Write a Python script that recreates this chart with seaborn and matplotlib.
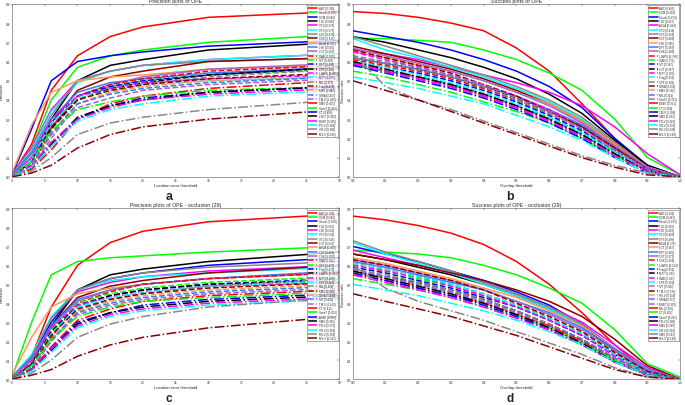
import matplotlib
matplotlib.use("Agg")
import matplotlib.pyplot as plt
import seaborn as sns

thr_prec = [0, 3, 6, 10, 15, 20, 30, 50]
thr_succ = [0, 0.1, 0.2, 0.3, 0.4, 0.5, 0.6, 0.7, 0.8, 0.9, 1.0]

# (a) precision plots of OPE
names_a = ["ABC", "Struck", "SCM", "TLD", "VTD", "VTS", "CXT", "CSK", "ASLA", "LSK", "LOT",
           "OAB", "IVT", "DFT", "CPF", "L1APG", "MTT", "MIL", "Frag", "KMS", "ORIA", "TM-V",
           "SMS", "SemiT", "CT", "LSHT", "BSBT", "PD-V", "VR-V", "MS-V"]
scores_a = [0.785, 0.656, 0.649, 0.608, 0.576, 0.575, 0.575, 0.545, 0.532, 0.505, 0.502,
            0.500, 0.499, 0.496, 0.491, 0.485, 0.475, 0.475, 0.475, 0.466, 0.457, 0.445,
            0.425, 0.419, 0.406, 0.400, 0.395, 0.384, 0.380, 0.285]
prec_a = [
    [0.01, 0.17, 0.45, 0.63, 0.73, 0.78, 0.83, 0.86],
    [0.01, 0.15, 0.40, 0.57, 0.63, 0.66, 0.70, 0.74],
    [0.01, 0.25, 0.50, 0.60, 0.63, 0.65, 0.68, 0.71],
    [0.00, 0.08, 0.30, 0.50, 0.58, 0.61, 0.66, 0.70],
    [0.01, 0.15, 0.35, 0.50, 0.55, 0.58, 0.61, 0.64],
    [0.01, 0.14, 0.34, 0.49, 0.55, 0.58, 0.61, 0.64],
    [0.01, 0.13, 0.32, 0.50, 0.55, 0.58, 0.60, 0.62],
    [0.01, 0.10, 0.28, 0.45, 0.52, 0.55, 0.60, 0.62],
    [0.02, 0.27, 0.44, 0.50, 0.52, 0.53, 0.56, 0.58],
    [0.01, 0.12, 0.30, 0.44, 0.49, 0.51, 0.54, 0.57],
    [0.01, 0.10, 0.26, 0.42, 0.48, 0.52, 0.56, 0.59],
    [0.00, 0.05, 0.25, 0.42, 0.48, 0.51, 0.55, 0.58],
    [0.00, 0.08, 0.25, 0.40, 0.47, 0.50, 0.53, 0.56],
    [0.00, 0.08, 0.28, 0.42, 0.47, 0.50, 0.53, 0.57],
    [0.00, 0.07, 0.25, 0.40, 0.46, 0.49, 0.53, 0.57],
    [0.00, 0.10, 0.30, 0.42, 0.46, 0.49, 0.51, 0.53],
    [0.00, 0.09, 0.28, 0.41, 0.45, 0.48, 0.50, 0.52],
    [0.00, 0.05, 0.20, 0.38, 0.44, 0.48, 0.52, 0.56],
    [0.00, 0.08, 0.26, 0.40, 0.45, 0.48, 0.51, 0.54],
    [0.00, 0.06, 0.22, 0.38, 0.44, 0.47, 0.50, 0.52],
    [0.00, 0.07, 0.23, 0.38, 0.43, 0.46, 0.49, 0.52],
    [0.00, 0.06, 0.22, 0.36, 0.41, 0.45, 0.48, 0.51],
    [0.00, 0.04, 0.14, 0.30, 0.38, 0.42, 0.46, 0.50],
    [0.00, 0.08, 0.24, 0.35, 0.39, 0.42, 0.45, 0.47],
    [0.00, 0.05, 0.16, 0.30, 0.37, 0.41, 0.44, 0.47],
    [0.00, 0.05, 0.17, 0.31, 0.37, 0.40, 0.44, 0.47],
    [0.00, 0.06, 0.18, 0.30, 0.36, 0.40, 0.43, 0.46],
    [0.00, 0.05, 0.16, 0.29, 0.35, 0.38, 0.42, 0.45],
    [0.00, 0.03, 0.10, 0.22, 0.28, 0.31, 0.35, 0.40],
    [0.00, 0.02, 0.06, 0.15, 0.22, 0.26, 0.30, 0.35],
]

# (b) success plots of OPE
names_b = ["ABC", "SCM", "Struck", "TLD", "ASLA", "VTD", "VTS", "CXT", "LSK", "DFT", "CSK",
           "L1APG", "OAB", "IVT", "LOT", "MTT", "Frag", "CPF", "ORIA", "KMS", "MIL", "SemiT",
           "BSBT", "CT", "TM-V", "SMS", "PD-V", "VR-V", "RS-V", "MS-V"]
scores_b = [0.641, 0.499, 0.474, 0.437, 0.434, 0.416, 0.416, 0.409, 0.395, 0.389, 0.383,
            0.380, 0.371, 0.367, 0.367, 0.358, 0.352, 0.341, 0.333, 0.326, 0.316, 0.313,
            0.311, 0.306, 0.289, 0.283, 0.263, 0.253, 0.249, 0.184]
succ_b = [
    [0.86, 0.85, 0.83, 0.80, 0.76, 0.67, 0.55, 0.38, 0.20, 0.05, 0.00],
    [0.72, 0.72, 0.71, 0.70, 0.66, 0.61, 0.54, 0.45, 0.30, 0.10, 0.01],
    [0.76, 0.73, 0.70, 0.66, 0.61, 0.55, 0.47, 0.36, 0.20, 0.06, 0.00],
    [0.73, 0.70, 0.66, 0.62, 0.57, 0.51, 0.43, 0.33, 0.19, 0.06, 0.00],
    [0.66, 0.64, 0.61, 0.57, 0.53, 0.49, 0.44, 0.37, 0.26, 0.12, 0.01],
    [0.72, 0.66, 0.62, 0.57, 0.52, 0.46, 0.39, 0.30, 0.17, 0.05, 0.00],
    [0.73, 0.68, 0.63, 0.58, 0.53, 0.47, 0.40, 0.31, 0.18, 0.05, 0.00],
    [0.68, 0.64, 0.60, 0.56, 0.51, 0.45, 0.38, 0.29, 0.17, 0.05, 0.00],
    [0.65, 0.62, 0.58, 0.55, 0.50, 0.44, 0.38, 0.29, 0.17, 0.05, 0.00],
    [0.62, 0.59, 0.56, 0.52, 0.47, 0.42, 0.35, 0.27, 0.16, 0.05, 0.00],
    [0.67, 0.63, 0.59, 0.55, 0.50, 0.44, 0.37, 0.28, 0.16, 0.05, 0.00],
    [0.61, 0.58, 0.55, 0.51, 0.46, 0.40, 0.33, 0.25, 0.14, 0.04, 0.00],
    [0.58, 0.55, 0.52, 0.48, 0.43, 0.37, 0.31, 0.23, 0.13, 0.03, 0.00],
    [0.60, 0.57, 0.54, 0.50, 0.45, 0.39, 0.32, 0.24, 0.13, 0.03, 0.00],
    [0.62, 0.59, 0.56, 0.52, 0.47, 0.41, 0.34, 0.26, 0.15, 0.04, 0.00],
    [0.65, 0.61, 0.57, 0.53, 0.48, 0.42, 0.35, 0.26, 0.15, 0.04, 0.00],
    [0.60, 0.57, 0.53, 0.49, 0.44, 0.38, 0.31, 0.23, 0.13, 0.03, 0.00],
    [0.62, 0.59, 0.56, 0.52, 0.47, 0.40, 0.33, 0.25, 0.14, 0.04, 0.00],
    [0.66, 0.62, 0.58, 0.54, 0.48, 0.42, 0.34, 0.26, 0.15, 0.04, 0.00],
    [0.59, 0.56, 0.52, 0.48, 0.43, 0.37, 0.30, 0.22, 0.12, 0.03, 0.00],
    [0.59, 0.55, 0.52, 0.48, 0.43, 0.37, 0.30, 0.22, 0.12, 0.03, 0.00],
    [0.63, 0.60, 0.57, 0.53, 0.48, 0.41, 0.34, 0.25, 0.14, 0.04, 0.00],
    [0.59, 0.55, 0.51, 0.47, 0.42, 0.36, 0.29, 0.21, 0.11, 0.03, 0.00],
    [0.55, 0.52, 0.48, 0.44, 0.39, 0.34, 0.28, 0.20, 0.11, 0.03, 0.00],
    [0.58, 0.54, 0.50, 0.46, 0.41, 0.35, 0.28, 0.20, 0.10, 0.02, 0.00],
    [0.60, 0.56, 0.52, 0.48, 0.43, 0.37, 0.30, 0.22, 0.12, 0.03, 0.00],
    [0.59, 0.55, 0.51, 0.47, 0.42, 0.36, 0.29, 0.21, 0.11, 0.03, 0.00],
    [0.52, 0.49, 0.46, 0.42, 0.38, 0.32, 0.26, 0.19, 0.10, 0.02, 0.00],
    [0.64, 0.47, 0.40, 0.35, 0.29, 0.23, 0.17, 0.11, 0.06, 0.02, 0.00],
    [0.50, 0.45, 0.40, 0.34, 0.28, 0.22, 0.16, 0.10, 0.05, 0.01, 0.00],
]

# (c) precision plots of OPE - occlusion (29)
names_c = ["ABC", "SCM", "Struck", "TLD", "LSK", "VTS", "VTD", "LOT", "ASLA", "CXT", "CSK",
           "OAB", "DFT", "Frag", "L1APG", "MTT", "CPF", "MIL", "KMS", "ORIA", "IVT", "TM-V",
           "CT", "SemiT", "BSBT", "SMS", "PD-V", "VR-V", "RS-V", "MS-V"]
scores_c = [0.783, 0.640, 0.564, 0.563, 0.534, 0.534, 0.545, 0.522, 0.460, 0.491, 0.500,
            0.492, 0.475, 0.475, 0.461, 0.460, 0.460, 0.428, 0.438, 0.435, 0.455, 0.420,
            0.412, 0.413, 0.390, 0.383, 0.375, 0.364, 0.352, 0.241]
prec_c = [
    [0.01, 0.12, 0.38, 0.60, 0.72, 0.78, 0.83, 0.87],
    [0.01, 0.30, 0.55, 0.62, 0.64, 0.65, 0.67, 0.70],
    [0.01, 0.12, 0.30, 0.47, 0.53, 0.56, 0.60, 0.64],
    [0.00, 0.08, 0.28, 0.47, 0.55, 0.58, 0.62, 0.67],
    [0.01, 0.12, 0.32, 0.46, 0.51, 0.54, 0.57, 0.60],
    [0.01, 0.13, 0.33, 0.47, 0.52, 0.54, 0.56, 0.59],
    [0.01, 0.12, 0.32, 0.47, 0.53, 0.56, 0.59, 0.62],
    [0.01, 0.10, 0.28, 0.43, 0.49, 0.52, 0.56, 0.60],
    [0.02, 0.22, 0.38, 0.45, 0.48, 0.50, 0.53, 0.56],
    [0.01, 0.11, 0.28, 0.42, 0.47, 0.50, 0.53, 0.57],
    [0.01, 0.10, 0.27, 0.41, 0.47, 0.50, 0.53, 0.56],
    [0.00, 0.05, 0.22, 0.40, 0.46, 0.50, 0.53, 0.56],
    [0.00, 0.08, 0.26, 0.40, 0.45, 0.48, 0.51, 0.54],
    [0.00, 0.07, 0.24, 0.38, 0.44, 0.47, 0.50, 0.53],
    [0.00, 0.08, 0.25, 0.39, 0.44, 0.47, 0.50, 0.52],
    [0.00, 0.09, 0.27, 0.39, 0.43, 0.46, 0.49, 0.51],
    [0.00, 0.07, 0.24, 0.38, 0.43, 0.46, 0.49, 0.52],
    [0.00, 0.05, 0.20, 0.36, 0.42, 0.45, 0.49, 0.53],
    [0.00, 0.07, 0.23, 0.37, 0.42, 0.45, 0.48, 0.51],
    [0.00, 0.06, 0.21, 0.35, 0.41, 0.44, 0.47, 0.50],
    [0.00, 0.06, 0.21, 0.35, 0.40, 0.43, 0.46, 0.49],
    [0.00, 0.06, 0.20, 0.34, 0.39, 0.42, 0.45, 0.48],
    [0.00, 0.05, 0.17, 0.31, 0.37, 0.41, 0.44, 0.47],
    [0.00, 0.07, 0.21, 0.33, 0.38, 0.41, 0.43, 0.46],
    [0.00, 0.05, 0.16, 0.30, 0.35, 0.39, 0.42, 0.45],
    [0.00, 0.05, 0.15, 0.29, 0.35, 0.38, 0.41, 0.44],
    [0.00, 0.05, 0.16, 0.28, 0.34, 0.37, 0.40, 0.43],
    [0.00, 0.04, 0.14, 0.27, 0.33, 0.36, 0.39, 0.42],
    [0.00, 0.03, 0.10, 0.22, 0.29, 0.33, 0.38, 0.43],
    [0.00, 0.02, 0.05, 0.12, 0.18, 0.22, 0.27, 0.33],
]

# (d) success plots of OPE - occlusion (29)
names_d = ["ABC", "SCM", "Struck", "TLD", "LSK", "VTD", "VTS", "ASLA", "LOT", "DFT", "CXT",
           "CSK", "L1APG", "Frag", "MTT", "OAB", "CPF", "IVT", "TM-V", "RS-V", "ORIA", "BSBT",
           "MIL", "CT", "SemiT", "PD-V", "KMS", "VR-V", "SMS", "MS-V"]
scores_d = [0.636, 0.487, 0.413, 0.402, 0.409, 0.403, 0.398, 0.376, 0.387, 0.381, 0.372,
            0.365, 0.354, 0.352, 0.343, 0.347, 0.350, 0.325, 0.335, 0.318, 0.317, 0.305,
            0.300, 0.301, 0.291, 0.288, 0.280, 0.262, 0.243, 0.198]
succ_d = [
    [0.86, 0.84, 0.81, 0.77, 0.71, 0.62, 0.50, 0.35, 0.18, 0.04, 0.00],
    [0.68, 0.67, 0.66, 0.64, 0.60, 0.55, 0.48, 0.40, 0.26, 0.08, 0.01],
    [0.70, 0.66, 0.62, 0.57, 0.52, 0.46, 0.39, 0.29, 0.16, 0.04, 0.00],
    [0.66, 0.63, 0.59, 0.55, 0.50, 0.44, 0.37, 0.28, 0.15, 0.04, 0.00],
    [0.68, 0.64, 0.60, 0.56, 0.51, 0.45, 0.38, 0.30, 0.18, 0.06, 0.00],
    [0.72, 0.66, 0.61, 0.56, 0.50, 0.44, 0.37, 0.28, 0.16, 0.04, 0.00],
    [0.73, 0.67, 0.62, 0.57, 0.51, 0.45, 0.38, 0.29, 0.16, 0.04, 0.00],
    [0.66, 0.63, 0.60, 0.56, 0.52, 0.47, 0.41, 0.33, 0.21, 0.07, 0.00],
    [0.64, 0.61, 0.57, 0.53, 0.48, 0.43, 0.36, 0.28, 0.16, 0.05, 0.00],
    [0.62, 0.59, 0.55, 0.51, 0.47, 0.41, 0.35, 0.27, 0.16, 0.05, 0.00],
    [0.63, 0.60, 0.56, 0.52, 0.47, 0.41, 0.34, 0.26, 0.15, 0.04, 0.00],
    [0.61, 0.58, 0.54, 0.50, 0.45, 0.39, 0.32, 0.24, 0.13, 0.03, 0.00],
    [0.60, 0.57, 0.53, 0.49, 0.44, 0.38, 0.31, 0.23, 0.13, 0.03, 0.00],
    [0.59, 0.56, 0.52, 0.48, 0.43, 0.38, 0.31, 0.23, 0.13, 0.03, 0.00],
    [0.57, 0.54, 0.51, 0.47, 0.42, 0.36, 0.29, 0.21, 0.11, 0.03, 0.00],
    [0.60, 0.57, 0.54, 0.49, 0.44, 0.38, 0.31, 0.23, 0.12, 0.03, 0.00],
    [0.61, 0.58, 0.54, 0.50, 0.45, 0.39, 0.32, 0.24, 0.13, 0.03, 0.00],
    [0.58, 0.55, 0.51, 0.47, 0.42, 0.36, 0.29, 0.21, 0.11, 0.03, 0.00],
    [0.63, 0.60, 0.56, 0.52, 0.47, 0.40, 0.33, 0.25, 0.14, 0.04, 0.00],
    [0.56, 0.53, 0.49, 0.45, 0.40, 0.34, 0.27, 0.20, 0.11, 0.03, 0.00],
    [0.57, 0.54, 0.50, 0.46, 0.41, 0.35, 0.28, 0.21, 0.11, 0.03, 0.00],
    [0.58, 0.54, 0.50, 0.46, 0.41, 0.35, 0.28, 0.20, 0.10, 0.02, 0.00],
    [0.55, 0.52, 0.48, 0.44, 0.40, 0.34, 0.28, 0.20, 0.10, 0.02, 0.00],
    [0.53, 0.50, 0.47, 0.43, 0.38, 0.33, 0.27, 0.19, 0.10, 0.02, 0.00],
    [0.56, 0.52, 0.48, 0.44, 0.39, 0.33, 0.26, 0.18, 0.09, 0.02, 0.00],
    [0.57, 0.53, 0.49, 0.45, 0.40, 0.34, 0.27, 0.19, 0.09, 0.02, 0.00],
    [0.55, 0.51, 0.47, 0.43, 0.38, 0.32, 0.26, 0.18, 0.09, 0.02, 0.00],
    [0.50, 0.47, 0.44, 0.40, 0.36, 0.31, 0.25, 0.18, 0.09, 0.02, 0.00],
    [0.60, 0.48, 0.41, 0.36, 0.31, 0.25, 0.19, 0.13, 0.06, 0.01, 0.00],
    [0.45, 0.41, 0.37, 0.33, 0.28, 0.23, 0.17, 0.11, 0.05, 0.01, 0.00],
]

# matlab-ish line styles: 11 colours, then solid / dashed / dash-dot
colors = ["#ff0000", "#00ff00", "#0000ff", "#000000", "#ff00ff", "#00ffff",
          "#888888", "#880000", "#ff9955", "#3a78ff", "#a066c8"]
styles = ["-", "--", "-."]

sns.set_style("white")
plt.rcParams["font.family"] = ["Liberation Sans", "DejaVu Sans"]

fig = plt.figure(figsize=(6.85, 4.06), dpi=100)

panels = [
    ([0.0175, 0.562, 0.478, 0.426], thr_prec, prec_a, names_a, scores_a,
     "Precision plots of OPE", "Location error threshold", "Precision", "a", 0.515),
    ([0.515, 0.562, 0.478, 0.426], thr_succ, succ_b, names_b, scores_b,
     "Success plots of OPE", "Overlap threshold", "Success rate", "b", 0.515),
    ([0.0175, 0.064, 0.478, 0.420], thr_prec, prec_c, names_c, scores_c,
     "Precision plots of OPE - occlusion (29)", "Location error threshold", "Precision", "c", 0.003),
    ([0.515, 0.064, 0.478, 0.420], thr_succ, succ_d, names_d, scores_d,
     "Success plots of OPE - occlusion (29)", "Overlap threshold", "Success rate", "d", 0.003),
]

for rect, xs, rows, names, scores, title, xlab, ylab, letter, ly in panels:
    ax = fig.add_axes(rect)
    for i, (name, sc, ys) in enumerate(zip(names, scores, rows)):
        sns.lineplot(x=xs, y=ys, ax=ax, color=colors[i % 11], linestyle=styles[i // 11],
                     linewidth=1.1, label=f"{name} [{sc:.3f}]")
    ax.set_xlim(xs[0], xs[-1])
    ax.set_ylim(0, 0.9)
    ax.set_yticks([i / 10 for i in range(10)])
    if xs[-1] == 50:
        ax.set_xticks(range(0, 51, 5))
    else:
        ax.set_xticks([i / 10 for i in range(11)])
    ax.tick_params(labelsize=2.3, length=1.5, width=0.3, direction="in", pad=1,
                   top=True, right=True)
    for s in ax.spines.values():
        s.set_linewidth(0.4)
        s.set_color("#555555")
    ax.set_title(title, fontsize=3.8, pad=1.5)
    ax.set_xlabel(xlab, fontsize=3, labelpad=0.5)
    ax.set_ylabel(ylab, fontsize=3, labelpad=1.5)
    leg = ax.legend(loc="upper right", fontsize=2.0, handlelength=3.4, labelspacing=0.12,
                    borderpad=0.4, handletextpad=0.4, frameon=True, fancybox=False,
                    borderaxespad=0.4)
    leg.get_frame().set_edgecolor("#444444")
    leg.get_frame().set_linewidth(0.4)
    x0, _, w, _ = rect
    if ly < 0.1:
        fig.text(x0 + w * 0.48, ly, letter, ha="center", va="bottom",
                 fontsize=8.5, fontweight="bold")
    else:
        fig.text(x0 + w * 0.48, ly, letter, ha="center", va="center",
                 fontsize=9, fontweight="bold")

fig.savefig("out.png", dpi=100)
